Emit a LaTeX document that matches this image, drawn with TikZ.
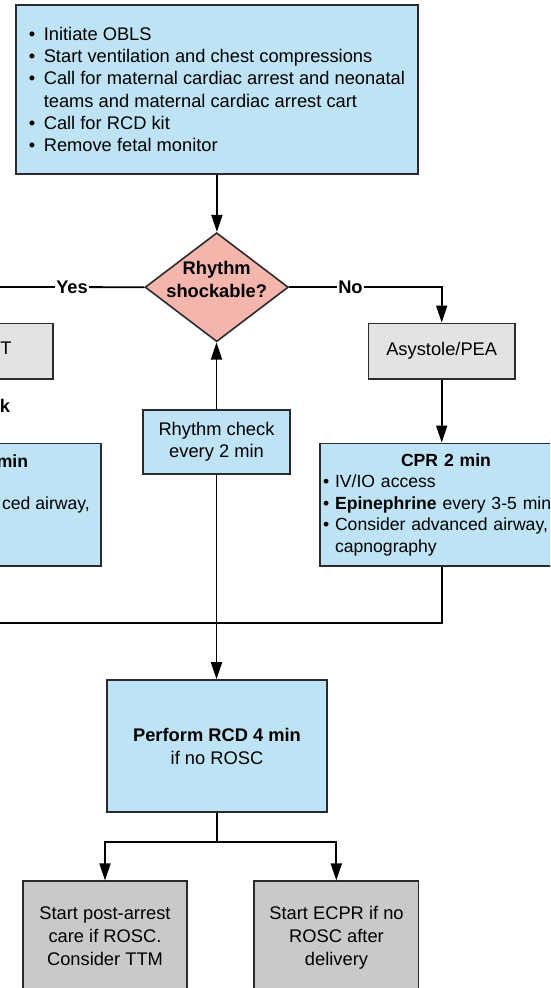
\documentclass[tikz,border=0pt]{standalone}
\usepackage{fontspec}
\setmainfont{Liberation Sans}
\usepackage{xcolor}
\usetikzlibrary{shapes.geometric,arrows.meta}

\definecolor{cardblue}{HTML}{BEE3F5}
\definecolor{cardpink}{HTML}{F4B5AD}
\definecolor{cardlight}{HTML}{E3E3E3}
\definecolor{cardgrey}{HTML}{C9C9C9}
\definecolor{cardedge}{HTML}{2B2B2B}

\newcommand{\topbul}{\textbullet\hspace{8.5pt}}
\newcommand{\topgap}{\hphantom{\topbul}}

\begin{document}
\begin{tikzpicture}[x=1pt,y=1pt,yscale=-1,xscale=1,
    bodytext/.style={font=\fontsize{18.3}{22.3}\selectfont},
    headtext/.style={font=\fontsize{18.3}{22.3}\selectfont\bfseries},
    smalltext/.style={font=\fontsize{17.6}{21.5}\selectfont},
    card/.style={bodytext, draw=cardedge, line width=1.6pt, inner sep=0pt, align=center},
    bluecard/.style={card, fill=cardblue},
    lightcard/.style={card, fill=cardlight},
    greycard/.style={card, fill=cardgrey},
    decision/.style={diamond, draw=cardedge, fill=cardpink, line width=1.6pt, inner sep=0pt},
    flow/.style={line width=1.8pt, black},
    flowarrow/.style={flow, -{Triangle[length=17pt,width=11pt]}},
    answer/.style={headtext, fill=white, inner sep=1pt}]

    \useasboundingbox (0,0) rectangle (550,988);
    \clip (0,0) rectangle (550,988);

    % Text Node
    \node[bluecard, minimum width=402, minimum height=169.3, align=left] (start) at (216.9,89.4)
        {\topbul Initiate OBLS\\
         \topbul Start ventilation and chest compressions\\
         \topbul Call for maternal cardiac arrest and neonatal\\
         \topgap teams and maternal cardiac arrest cart\\
         \topbul Call for RCD kit\\
         \topbul Remove fetal monitor};

    % Decision
    \node[decision, minimum width=143.3, minimum height=109] (dec) at (216.7,287.2) {};
    \node[headtext, align=center, inner sep=0pt] (dectext) at (216.7,279.5) {Rhythm\\shockable?};

    % Text Node
    \node[lightcard, minimum width=145.4, minimum height=55.7] (vf) at (-20,351.2) {};
    \node[bodytext, anchor=base east, inner sep=0pt] (vftail) at (11.7,354.6) {T};
    \node[headtext, anchor=base east, inner sep=0pt] (shocktail) at (10.2,412.7) {k};
    \node[lightcard, minimum width=146.7, minimum height=55.7] (asys) at (441.7,351.2) {Asystole/PEA};

    % Text Node
    \node[bluecard, minimum width=252.2, minimum height=122.7] (cprleft) at (-25.1,504.7) {};
    \node[smalltext, font=\fontsize{17.6}{21.5}\selectfont\bfseries, anchor=base east, inner sep=0pt] (cprlefthead) at (28.3,467) {min};
    \node[smalltext, anchor=base east, inner sep=0pt] (cprlefttail) at (90,509.6) {ced airway,};
    \node[bluecard, minimum width=147, minimum height=64, font=\fontsize{18.3}{21.6}\selectfont] (check) at (216.5,442) {Rhythm check\\every 2 min};
    \node[bluecard, minimum width=252, minimum height=122.7, text width=246, align=left, smalltext] (cpr) at (446,504.7)
        {\makebox[\linewidth][c]{\bfseries CPR 2 min}\\
         \textbullet\ IV/IO access\\
         \textbullet\ \textbf{Epinephrine} every 3-5 min\\
         \textbullet\ Consider advanced airway,\\
         \hphantom{\textbullet\ }capnography};

    % Text Node
    \node[bluecard, minimum width=220, minimum height=132, font=\fontsize{18.3}{23}\selectfont] (rcd) at (217,746) {\textbf{Perform RCD 4 min}\\if no ROSC};

    % Text Node
    \node[greycard, minimum width=164, minimum height=130, anchor=north] (post) at (105,880.4) {};
    \node[bodytext, font=\fontsize{18.3}{23}\selectfont, align=center, inner sep=0pt, anchor=north] (posttext) at (105,906.3) {Start post-arrest\\care if ROSC.\\Consider TTM};
    \node[greycard, minimum width=164.5, minimum height=130, anchor=north] (ecpr) at (336.3,880.4) {};
    \node[bodytext, font=\fontsize{18.3}{23}\selectfont, align=center, inner sep=0pt, anchor=north] (ecprtext) at (336.5,906.3) {Start ECPR if no\\ROSC after\\delivery};

    % free ends and junctions
    \coordinate (yesend) at (-10,287);
    \coordinate (loopend) at (-10,622.7);
    \coordinate (split) at (217,842);

    %Straight Lines
    \draw[flowarrow] (start.south) -- (start.south |- dec.north);
    \draw[flow] (dec.west) -- node[answer, pos=0.468] (yes) {Yes} (yesend);
    \draw[flowarrow] (dec.east) -| node[answer, pos=0.201] (no) {No} (asys.north);
    \draw[flowarrow] (asys.south) -- (asys.south |- cpr.north);
    \draw[flowarrow] (check.north) -- (check.north |- dec.south);
    \draw[flow] (asys.south |- cpr.south) |- (loopend);
    \draw[flowarrow] (check.south) -- (check.south |- rcd.north);
    \draw[flow] (rcd.south) -- (split);
    \draw[flowarrow] (split) -| (post.north);
    \draw[flowarrow] (split) -| (ecpr.north);

\end{tikzpicture}
\end{document}
